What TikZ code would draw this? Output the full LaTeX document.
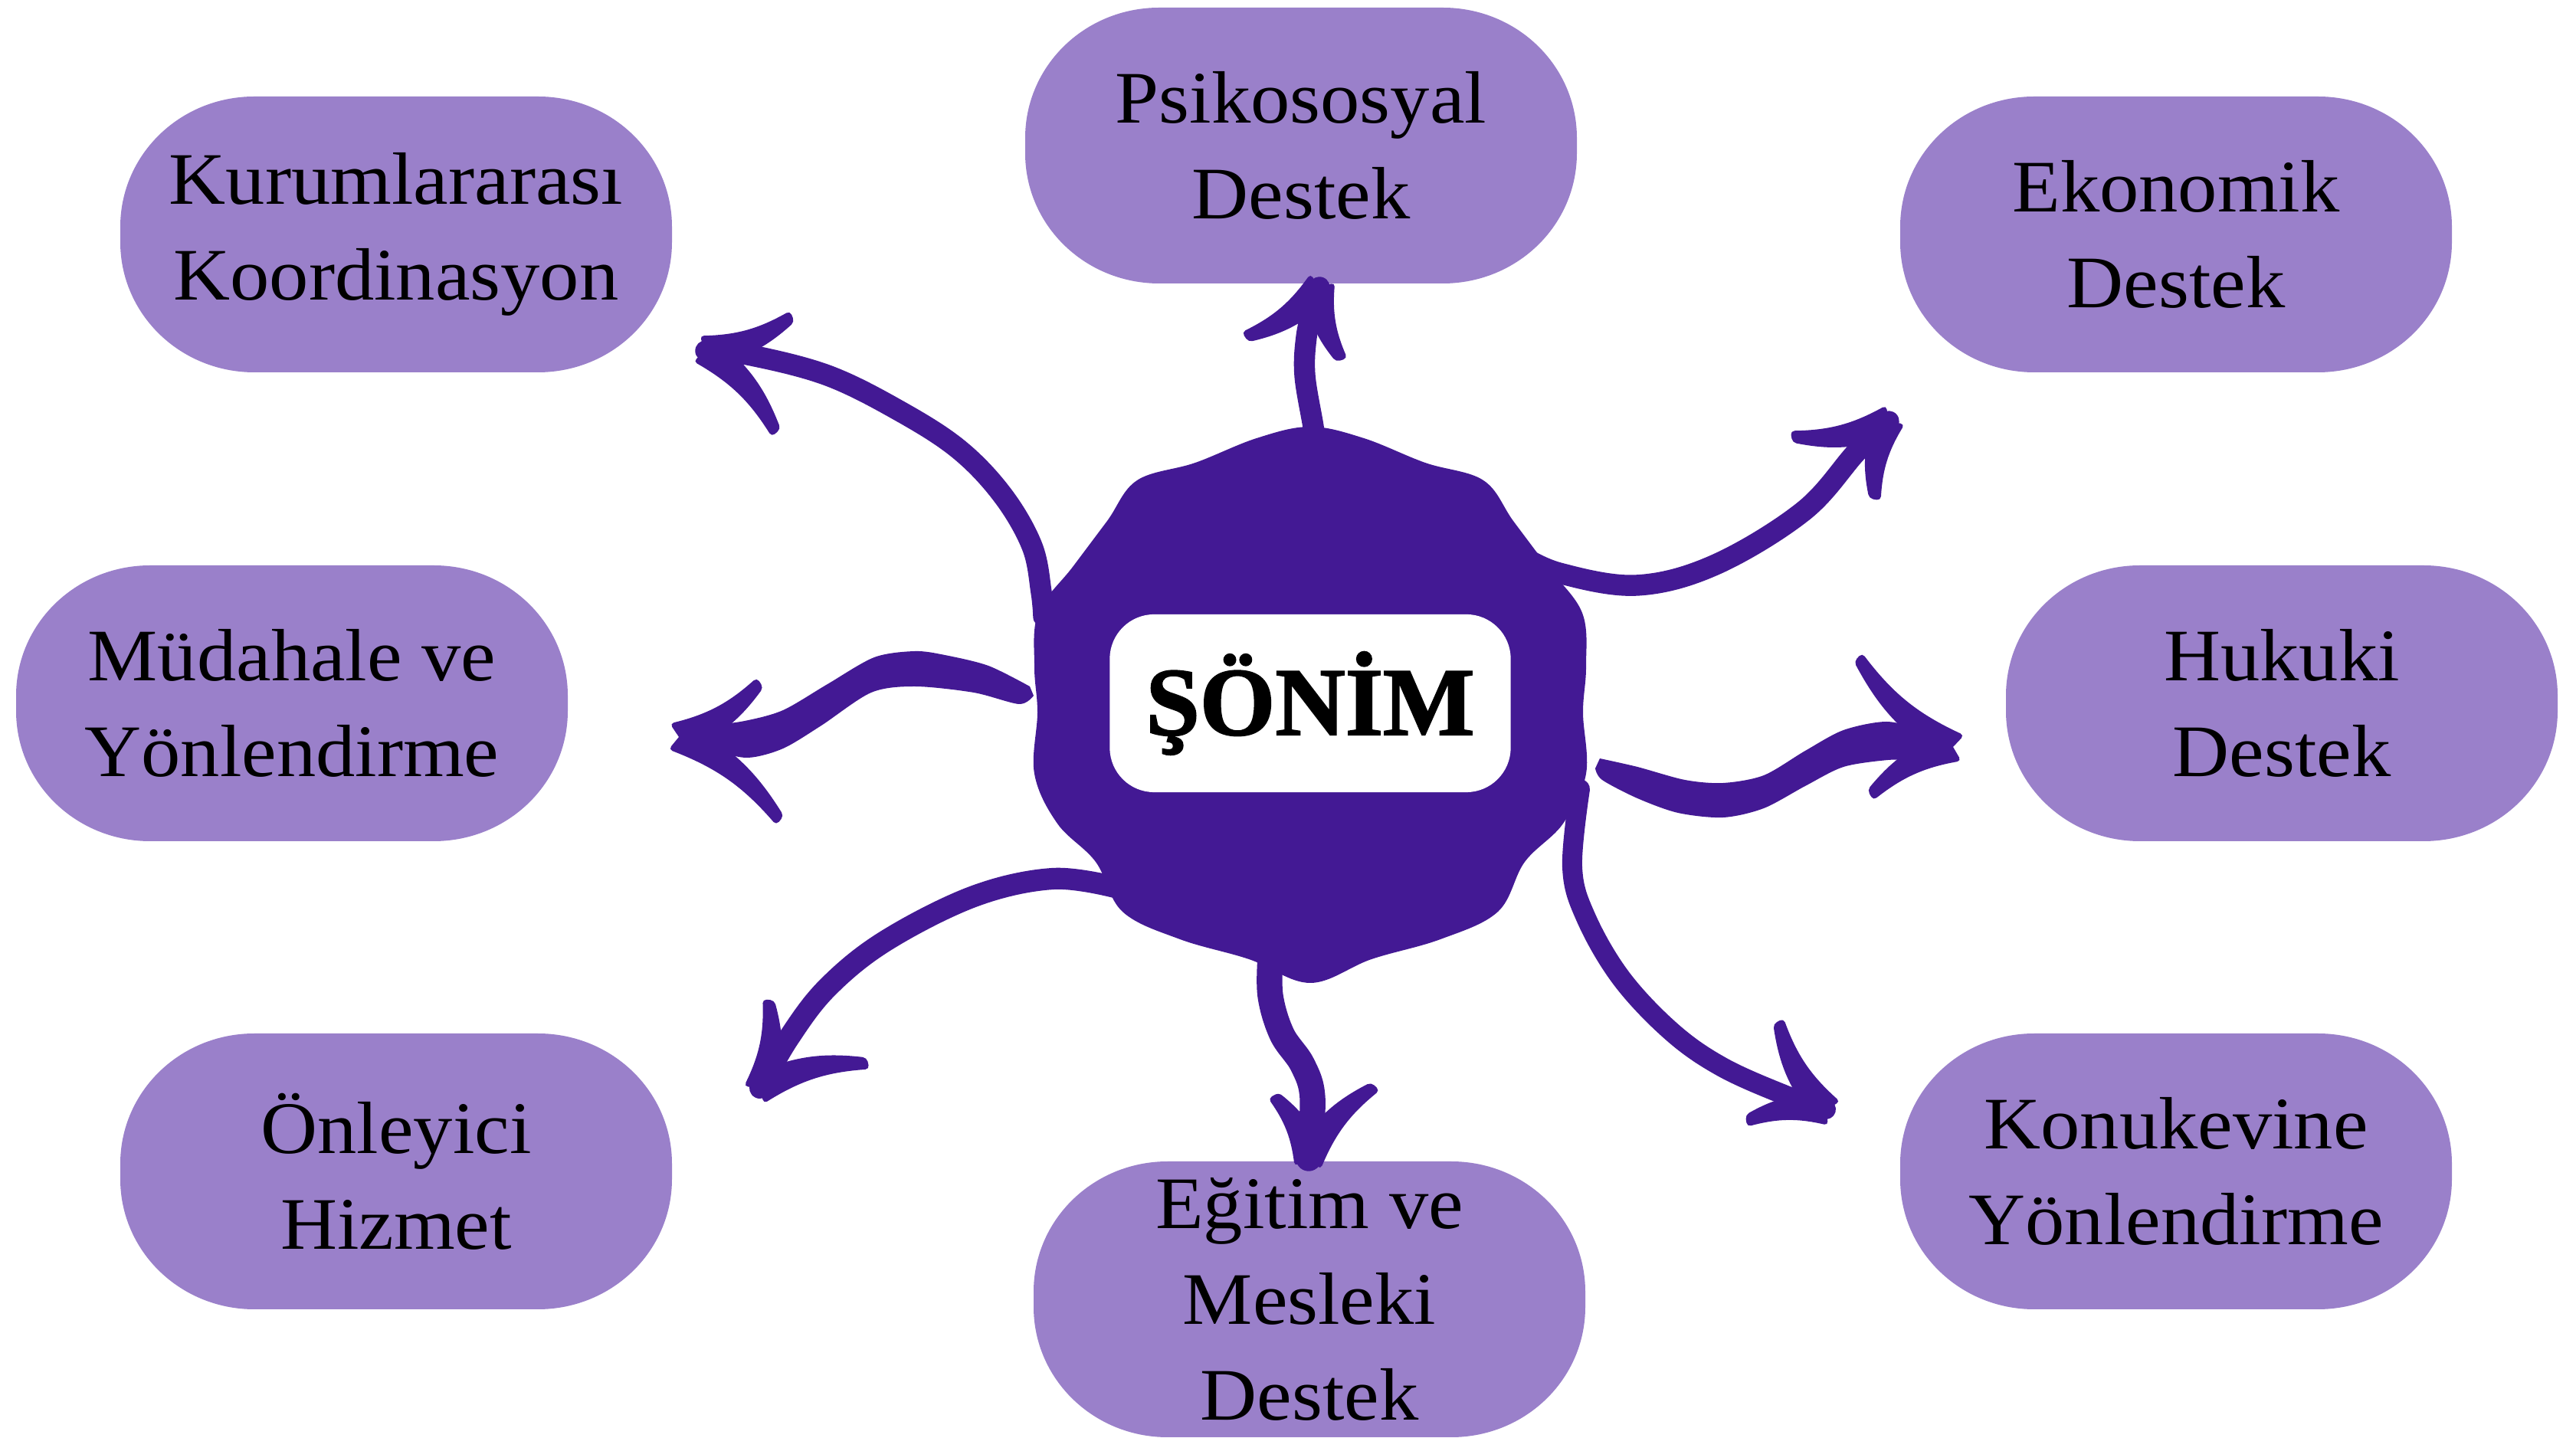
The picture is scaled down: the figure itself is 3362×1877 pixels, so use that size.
\documentclass[tikz,border=0pt]{standalone}
\usepackage{fontspec}
\setmainfont{Liberation Serif}
\newfontfamily\boxfont{Liberation Serif}[FakeStretch=1.06]
\newfontfamily\titlefont{Liberation Serif}[BoldFeatures={FakeBold=1.6}]
\usetikzlibrary{calc}
\definecolor{dk}{RGB}{67,25,148}
\definecolor{lilac}{RGB}{154,128,202}
\tikzset{
  shaft/.style={draw=dk, line cap=round, line join=round},
  barbfill/.style={fill=dk, rounded corners=1.5pt},
  boxtext/.style={align=center, inner sep=0pt, text=black,
    font={\boxfont\fontsize{27.5pt}{35.6pt}\selectfont}},
  titlebox/.style={fill=white, rounded corners=0.58cm, minimum width=5.23cm,
    minimum height=2.32cm, inner sep=0pt, text=black,
    font={\titlefont\bfseries\fontsize{36pt}{40pt}\selectfont}}
}
\newcommand\pill[4]{%
  \fill[lilac] ({#2-185},{#3-180}) -- ({#2+185},{#3-180})
    .. controls ({#2+282},{#3-180}) and ({#2+360},{#3-104}) .. ({#2+360},{#3-10})
    -- ({#2+360},{#3+10})
    .. controls ({#2+360},{#3+104}) and ({#2+282},{#3+180}) .. ({#2+185},{#3+180})
    -- ({#2-185},{#3+180})
    .. controls ({#2-282},{#3+180}) and ({#2-360},{#3+104}) .. ({#2-360},{#3+10})
    -- ({#2-360},{#3-10})
    .. controls ({#2-360},{#3-104}) and ({#2-282},{#3-180}) .. ({#2-185},{#3-180}) -- cycle;
  \node[boxtext] (#1) at (#2,#3) {#4};}
\newcommand\barbL[2]{%
  \fill[barbfill] ($(#1)!6pt!90:(#2)$) to[bend left=14] ($(#2)!2.2pt!-90:(#1)$)
    -- ($(#2)!2.2pt!90:(#1)$) to[bend right=14] ($(#1)!6pt!-90:(#2)$) -- cycle;}
\newcommand\barbR[2]{%
  \fill[barbfill] ($(#1)!6pt!90:(#2)$) to[bend right=14] ($(#2)!2.2pt!-90:(#1)$)
    -- ($(#2)!2.2pt!90:(#1)$) to[bend left=14] ($(#1)!6pt!-90:(#2)$) -- cycle;}
\begin{document}
\begin{tikzpicture}[x=0.01cm, y=-0.01cm]
\useasboundingbox (0,0) rectangle (3362,1877);

% outer boxes
\pill{kur}{517}{306}{Kurumlararası\\Koordinasyon}
\pill{psi}{1698}{190}{Psikososyal\\Destek}
\pill{eko}{2840}{306}{Ekonomik\\Destek}
\pill{mud}{381}{918}{Müdahale ve\\Yönlendirme}
\pill{huk}{2978}{918}{Hukuki\\Destek}
\pill{onl}{517}{1529}{Önleyici\\Hizmet}
\pill{egi}{1709}{1696}{Eğitim ve\\Mesleki\\Destek}
\pill{kon}{2840}{1529}{Konukevine\\Yönlendirme}

% arrow start and tip coordinates
\coordinate (s1) at (1362,805);  \coordinate (t1) at (921,458);
\coordinate (s2) at (1718,590);  \coordinate (t2) at (1722,375);
\coordinate (s3) at (1985,725);  \coordinate (t3) at (2465,550);
\coordinate (t4) at (886,962);
\coordinate (t5) at (2549,975);
\coordinate (s6) at (1455,1158); \coordinate (t6) at (992,1420);
\coordinate (s7) at (1658,1250); \coordinate (t7) at (1708,1512);
\coordinate (s8) at (2062,1030); \coordinate (t8) at (2383,1448);

% A1 Kurumlararasi
\draw[shaft, line width=7.8pt] plot[smooth, tension=0.6] coordinates {(s1) (1359,773) (1347,713) (1309,647) (1252,587) (1175,537) (1080,490) (976,463) (t1)};
\barbR{t1}{1034,413}
\barbL{t1}{1013,565}
% A2 Psikososyal
\draw[shaft, line width=7.8pt] plot[smooth, tension=0.6] coordinates {(s2) (1714,557) (1703,490) (1705,440) (1714,400) (t2)};
\barbL{t2}{1625,440}
\barbR{t2}{1751,470}
% A3 Ekonomik
\draw[shaft, line width=7.8pt] plot[smooth, tension=0.6] coordinates {(s3) (2035,748) (2136,764) (2239,737) (2354,667) (2423,590) (t3)};
\barbL{t3}{2338,570}
\barbR{t3}{2447,652}
% A4 Mudahale (tapered shaft)
\fill[dk] plot[smooth, tension=0.5] coordinates {(1344,896) (1290,869) (1233,855) (1194,850) (1141,858) (1080,893) (1022,927) (972,941) (920,948) (890,952)}
  -- plot[smooth, tension=0.5] coordinates {(890,972) (930,980) (976,989) (1022,977) (1072,947) (1137,904) (1194,896) (1271,904) (1330,919) (1349,908)} -- cycle;
\barbR{t4}{992,891}
\barbL{t4}{1018,1071}
% A5 Hukuki (tapered shaft)
\fill[dk] plot[smooth, tension=0.5] coordinates {(2088,990) (2137,1001) (2199,1018) (2249,1022) (2302,1012) (2356,980) (2406,953) (2462,942) (2510,953) (2545,963)}
  -- plot[smooth, tension=0.5] coordinates {(2545,987) (2500,992) (2464,992) (2406,1001) (2356,1026) (2302,1055) (2249,1067) (2190,1061) (2137,1042) (2091,1018) (2082,1003)} -- cycle;
\barbL{t5}{2425,858}
\barbR{t5}{2441,1038}
% A6 Onleyici
\draw[shaft, line width=8pt] plot[smooth, tension=0.6] coordinates {(s6) (1374,1147) (1271,1170) (1156,1228) (1080,1289) (1030,1354) (t6)};
\barbR{t6}{1003,1305}
\barbL{t6}{1133,1388}
% A7 Egitim
\draw[shaft, line width=9.5pt] plot[smooth, tension=0.6] coordinates {(s7) (1658,1300) (1673,1350) (1700,1390) (1713,1433) (t7)};
\barbR{t7}{1662,1430}
\barbL{t7}{1795,1418}
% A8 Konukevine
\draw[shaft, line width=7.4pt] plot[smooth, tension=0.6] coordinates {(s8) (2052,1132) (2070,1198) (2116,1277) (2182,1347) (2248,1393) (2331,1430) (t8)};
\barbL{t8}{2321,1333}
\barbR{t8}{2279,1463}

% central wavy badge
\fill[dk] plot[smooth cycle, tension=0.6] coordinates {
 (1710,557) (1640,572) (1560,604) (1484,627) (1445,680) (1400,740) (1355,800) (1350,870)
 (1354,930) (1350,1010) (1380,1075) (1430,1125) (1465,1190) (1540,1226) (1630,1252) (1710,1283)
 (1790,1252) (1880,1226) (1955,1190) (1990,1125) (2040,1075) (2070,1010) (2066,930) (2070,870)
 (2065,800) (2020,740) (1975,680) (1936,627) (1860,604) (1780,572)};

\node[titlebox] (sonim) at (1710,918) {ŞÖNİM};
\end{tikzpicture}
\end{document}
